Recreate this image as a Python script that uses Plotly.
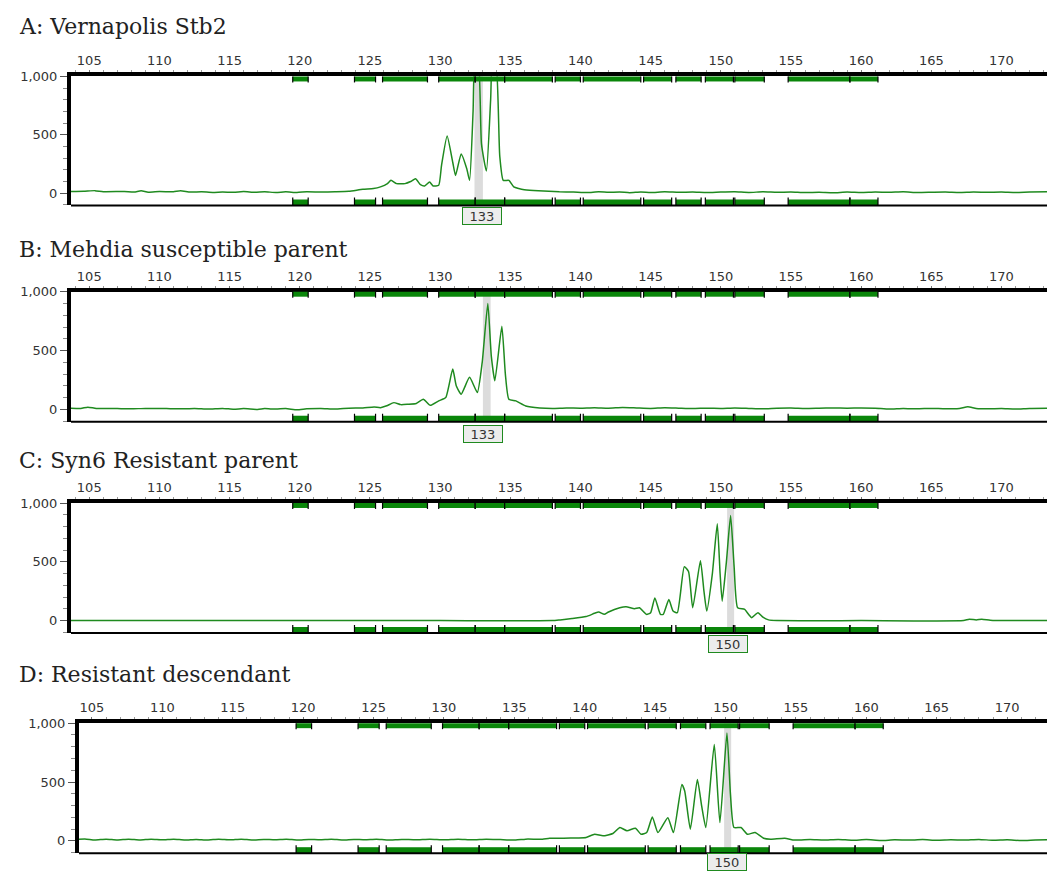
import plotly.graph_objects as go

# ---------------- data ----------------
panel_titles = ["A: Vernapolis Stb2", "B: Mehdia susceptible parent",
                "C: Syn6 Resistant parent", "D: Resistant descendant"]
called_alleles = ["133", "133", "150", "150"]
label_x = [133.0, 133.05, 150.5, 150.1]
band_lo = [132.45, 133.05, 150.45, 149.9]
band_hi = [133.05, 133.6, 150.95, 150.4]

bin_lo = [119.5, 123.9, 125.9, 129.9, 132.5, 134.6, 138.2, 140.2, 144.5, 146.8, 148.9, 151.0, 154.8, 159.2]
bin_hi = [120.6, 125.4, 129.1, 132.5, 134.6, 138.0, 140.0, 144.3, 146.5, 148.6, 150.9, 153.1, 159.2, 161.2]

size_ticks = [105, 110, 115, 120, 125, 130, 135, 140, 145, 150, 155, 160, 165, 170]
intensity_ticks = [0, 500, 1000]
intensity_ticktext = ["0", "500", "1,000"]

xA = [103.7, 104.6, 105.4, 106.0, 107.5, 108.2, 108.7, 109.2, 110.0, 111.0, 111.5, 112.2, 113.0, 113.8,
      114.5, 115.3, 116.0, 116.8, 117.5, 118.3, 119.0, 119.8, 120.5, 121.5, 122.5, 123.5, 124.5, 125.25,
      125.75, 126.25, 126.5, 126.9, 127.5, 127.9, 128.25, 128.6, 128.9, 129.25, 129.5, 129.9, 130.1, 130.5,
      130.9, 131.1, 131.5, 131.9, 132.1, 132.35, 132.5, 132.7, 132.95, 133.3, 133.6, 133.75, 133.95, 134.25,
      134.5, 134.9, 135.25, 135.6, 136.0, 137.0, 138.5, 139.5, 140.5, 141.3, 142.0, 142.8, 143.5, 144.3,
      145.0, 146.0, 147.0, 148.0, 149.0, 150.0, 151.0, 152.0, 153.0, 154.0, 155.0, 156.0, 157.0, 158.0,
      159.0, 160.0, 161.0, 162.0, 163.0, 164.0, 165.0, 166.0, 167.0, 168.0, 169.0, 170.0, 171.0, 172.0, 173.6]
yA = [14, 16, 22, 13, 14, 10, 20, 8, 14, 12, 20, 10, 12, 6,
      10, 8, 14, 8, 12, 6, 12, 6, 12, 10, 12, 16, 34, 40,
      54, 82, 110, 82, 82, 100, 124, 73, 62, 96, 62, 68, 237, 490,
      265, 152, 336, 209, 110, 700, 1150, 1150, 420, 190, 800, 1150, 1150, 320,
      110, 110, 54, 40, 30, 20, 12, 10, 6, 12, 8, 10, 4, 10,
      6, 12, 8, 10, 6, 10, 12, 6, 12, 8, 10, 5, 8, 4,
      10, 6, 10, 8, 12, 6, 8, 10, 6, 10, 8, 10, 6, 10, 12]

xB = [103.7, 104.4, 104.9, 105.5, 107.0, 108.0, 109.0, 110.5, 111.5, 112.5, 113.5, 114.5, 115.3, 116.0,
      117.0, 117.5, 118.0, 119.0, 119.8, 120.5, 121.5, 122.5, 123.5, 124.5, 125.3, 125.75, 126.2, 126.7,
      127.2, 127.7, 128.3, 128.8, 129.3, 129.9, 130.4, 130.9, 131.15, 131.5, 132.1, 132.65, 133.0, 133.4,
      133.65, 133.9, 134.4, 134.65, 134.9, 135.4, 136.1, 137.1, 138.0, 139.0, 140.0, 141.0, 142.0, 143.0,
      144.0, 145.0, 146.0, 147.0, 148.0, 149.0, 150.0, 151.0, 152.0, 153.0, 154.0, 155.0, 156.0, 157.0,
      158.0, 159.0, 160.0, 161.0, 162.0, 163.0, 164.0, 165.0, 166.0, 167.0, 167.6, 168.2, 169.0, 170.0,
      171.0, 172.0, 173.6]
yB = [10, 8, 18, 8, 6, 4, 8, 6, 4, 8, 2, 8, 0, 6,
      -2, 6, 2, 6, -4, 4, 8, 2, 10, 12, 20, 14, 30, 57,
      40, 43, 50, 86, 34, 72, 100, 343, 200, 129, 272, 143, 400, 900,
      450, 243, 706, 300, 86, 72, 29, 12, 8, 12, 10, 14, 10, 16,
      12, 8, 14, 10, 6, 10, 8, 12, 8, 4, 10, 12, 8, 10,
      12, 10, 12, 10, 2, 8, 4, 8, 4, 8, 22, 8, 4, 6,
      2, 8, 10]

xC = [103.7, 110.0, 120.0, 130.0, 138.0, 138.55, 139.4, 140.4, 141.0, 141.3, 141.7, 142.0, 142.8, 143.25,
      143.85, 144.2, 144.7, 145.0, 145.3, 145.7, 145.9, 146.3, 146.6, 146.9, 147.4, 147.7, 148.0, 148.55,
      148.8, 149.0, 149.4, 149.75, 149.95, 150.1, 150.4, 150.7, 150.95, 151.2, 151.7, 152.0, 152.2, 152.65,
      153.0, 153.4, 154.0, 160.0, 167.3, 167.7, 168.2, 168.6, 169.2, 170.3, 173.6]
yC = [0, 0, 0, 0, 0, 6, 17, 34, 62, 73, 53, 73, 109, 118,
      101, 109, 53, 67, 193, 53, 53, 179, 81, 67, 459, 417, 109, 510,
      250, 81, 400, 823, 400, 165, 500, 893, 459, 109, 95, 50, 25, 67,
      30, 6, 0, 0, 0, 12, 6, 12, 4, 0, 0]

xD = [103.7, 104.5, 105.2, 106.0, 106.8, 107.6, 108.4, 109.2, 110.0, 110.8, 111.6, 112.4, 113.2, 114.0,
      114.8, 115.6, 116.4, 117.2, 118.0, 118.8, 119.6, 120.4, 121.2, 122.0, 122.8, 123.6, 124.4, 125.2,
      126.0, 127.0, 128.0, 129.0, 130.0, 131.0, 132.0, 133.0, 134.0, 135.1, 135.8, 137.0, 137.5, 138.5,
      139.5, 140.1, 140.7, 141.3, 142.0, 142.5, 143.0, 143.6, 144.0, 144.4, 144.8, 145.2, 145.9, 146.3,
      146.9, 147.1, 147.5, 148.0, 148.3, 148.6, 149.2, 149.6, 150.1, 150.35, 150.6, 151.1, 151.55, 152.1,
      152.7, 153.2, 154.2, 154.9, 156.0, 157.0, 158.0, 159.0, 160.0, 161.0, 162.0, 163.0, 164.0, 165.0,
      166.0, 167.0, 168.0, 169.0, 170.0, 171.0, 172.0, 173.6]
yD = [10, 16, 6, 14, 6, 14, 6, 14, 8, 14, 6, 12, 6, 14,
      8, 14, 6, 12, 8, 14, 6, 12, 8, 14, 6, 12, 8, 14,
      6, 12, 8, 14, 8, 14, 8, 14, 10, 6, 14, 14, 22, 22,
      24, 28, 56, 42, 62, 113, 85, 107, 56, 70, 203, 70, 197, 70,
      479, 423, 99, 522, 300, 113, 818, 155, 917, 395, 113, 113, 56, 70,
      22, 14, 22, 6, 10, 6, 12, 4, 10, 2, 8, 6, 10, 4,
      8, 6, 12, 4, 8, 2, 6, 10]

traces = [(xA, yA), (xB, yB), (xC, yC), (xD, yD)]

# ---------------- layout geometry ----------------
OFF = 8                      # page body margin
W, H = 1055 - OFF, 871 - OFF

def px_x(p):
    return (p - OFF) / W

def px_y(p):
    return 1 - (p - OFF) / H

x_domains = [[px_x(71), px_x(1052)]] * 3 + [[px_x(79), 1.0]]
x_ranges = [[103.7, 173.6]] * 3 + [[104.08, 173.4]]
y_px = [(70, 200), (287, 418), (500, 631), (722, 853)]
title_px = [20, 244, 457, 673]
label_px = [211, 430, 642, 862]

GREEN_LINE = "#1f8a1f"
GREEN_BIN = "#0a860a"
tick_font = dict(family="DejaVu Sans", size=13, color="#333333")

fig = go.Figure()
shapes = []
annotations = []
layout = {}

for i, (xs, ys) in enumerate(traces):
    sfx = "" if i == 0 else str(i + 1)
    xa, ya = "x" + sfx, "y" + sfx
    top, bot = y_px[i]
    hpx = bot - top
    fig.add_trace(go.Scatter(x=xs, y=ys, mode="lines", xaxis=xa, yaxis=ya,
                             line=dict(color=GREEN_LINE, width=1.5, shape="spline", smoothing=0.5),
                             showlegend=False, hoverinfo="skip"))
    layout["xaxis" + sfx] = dict(
        domain=x_domains[i], range=x_ranges[i], anchor=ya, side="top",
        tickvals=size_ticks, ticks="outside", ticklen=2, tickwidth=1, tickcolor="#777",
        minor=dict(dtick=1, tick0=105, ticks="outside", ticklen=2, tickcolor="#999"),
        showline=True, linewidth=4, linecolor="black", showgrid=False, zeroline=False,
        tickfont=tick_font, fixedrange=True)
    layout["yaxis" + sfx] = dict(
        domain=[px_y(bot), px_y(top)], range=[-105, 1000], anchor=xa,
        tickvals=intensity_ticks, ticktext=intensity_ticktext,
        ticks="outside", ticklen=7, tickwidth=1, tickcolor="#555",
        minor=dict(dtick=100, tick0=0, ticks="outside", ticklen=4, tickcolor="#888"),
        showline=True, linewidth=4, linecolor="black", showgrid=False, zeroline=False,
        tickfont=tick_font, fixedrange=True)

    # highlight band of the called allele
    shapes.append(dict(type="rect", xref=xa, yref=ya + " domain", x0=band_lo[i], x1=band_hi[i],
                       y0=0, y1=1, fillcolor="#dcdcdc", line=dict(width=0), layer="below"))
    # bins top & bottom
    for lo, hi in zip(bin_lo, bin_hi):
        shapes.append(dict(type="rect", xref=xa, yref=ya + " domain", x0=lo, x1=hi,
                           y0=1 - 5 / hpx, y1=1, fillcolor=GREEN_BIN, line=dict(width=0)))
        shapes.append(dict(type="rect", xref=xa, yref=ya + " domain", x0=lo, x1=hi,
                           y0=0, y1=6 / hpx, fillcolor=GREEN_BIN, line=dict(width=0)))
        for edge in (lo, hi):
            shapes.append(dict(type="line", xref=xa, yref=ya + " domain", x0=edge, x1=edge,
                               y0=1, y1=1 - 6 / hpx, line=dict(color="black", width=1.2)))
            shapes.append(dict(type="line", xref=xa, yref=ya + " domain", x0=edge, x1=edge,
                               y0=0, y1=8 / hpx, line=dict(color="black", width=1.2)))
    # bottom and right borders
    shapes.append(dict(type="line", xref=xa + " domain", yref=ya + " domain", x0=0, x1=1,
                       y0=0, y1=0, line=dict(color="black", width=2)))
    shapes.append(dict(type="line", xref=xa + " domain", yref=ya + " domain", x0=1, x1=1,
                       y0=0, y1=1, line=dict(color="#777", width=1.5)))

    annotations.append(dict(text=panel_titles[i], xref="paper", yref="paper",
                            x=px_x(17), y=px_y(title_px[i]), xanchor="left", yanchor="middle",
                            showarrow=False,
                            font=dict(family="DejaVu Serif", size=22, color="#222")))
    annotations.append(dict(text=called_alleles[i], xref=xa, yref="paper",
                            x=label_x[i], y=px_y(label_px[i]), xanchor="center", yanchor="middle",
                            showarrow=False, bordercolor=GREEN_LINE, borderwidth=1, borderpad=1,
                            bgcolor="#ececec", width=36, height=14,
                            font=dict(family="DejaVu Sans", size=13, color="#333")))

fig.update_layout(width=W, height=H, margin=dict(l=0, r=0, t=0, b=0),
                  plot_bgcolor="white", paper_bgcolor="white",
                  shapes=shapes, annotations=annotations, **layout)
fig.write_html("out.html")
